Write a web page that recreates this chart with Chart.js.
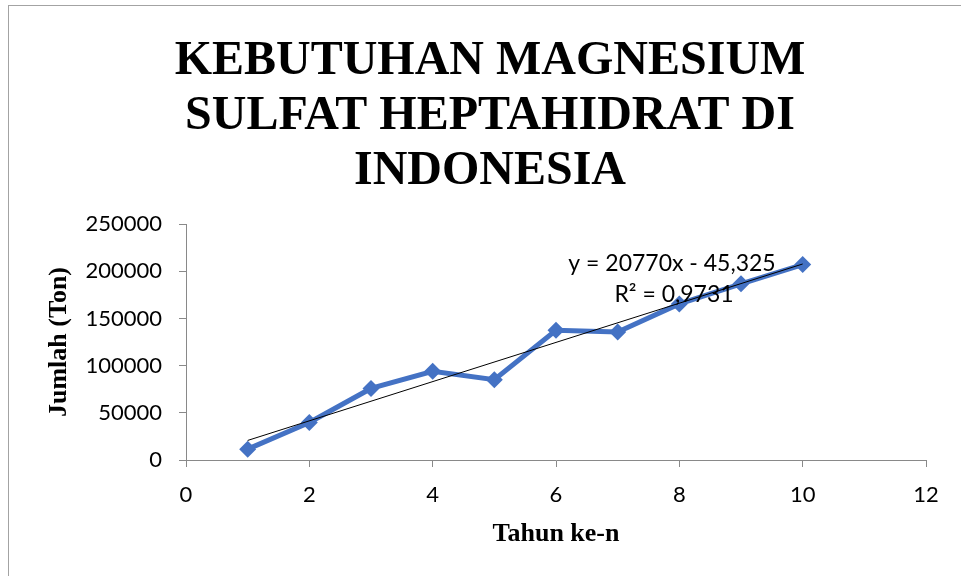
<!DOCTYPE html>
<html>
<head>
<meta charset="utf-8">
<script src="https://cdn.jsdelivr.net/npm/chart.js@4"></script>
<style>
    html, body { margin: 0; padding: 0; background: #ffffff; overflow: hidden; }
    #wrap { position: relative; width: 961px; height: 576px; }
</style>
</head>
<body>
<div id="wrap"><canvas id="magnesiumChart"></canvas></div>
<script>
// Data
const tahun = [1, 2, 3, 4, 5, 6, 7, 8, 9, 10];
const jumlah = [11500, 39800, 75800, 93900, 85100, 137400, 135700, 165400, 186600, 207000];

// Linear trendline end points (y = 20770x - 45,325)
const trendX = [1, 10];
const trendY = [20725, 207655];

const titleLines = ['KEBUTUHAN MAGNESIUM', 'SULFAT HEPTAHIDRAT DI', 'INDONESIA'];
const equationLines = ['y = 20770x - 45,325', 'R\u00B2 = 0,9731'];

const axisGray = '#898989';

// outer frame of the chart object
const framePlugin = {
    id: 'frame',
    beforeDraw(chart) {
        const ctx = chart.ctx;
        ctx.save();
        ctx.fillStyle = '#ffffff';
        ctx.fillRect(0, 0, chart.width, chart.height);
        ctx.strokeStyle = '#a3a3a3';
        ctx.lineWidth = 1;
        ctx.strokeRect(8.5, 5.5, chart.width + 20, chart.height + 20);
        ctx.restore();
    }
};

// trendline equation label
const equationPlugin = {
    id: 'equation',
    afterDatasetsDraw(chart) {
        const ctx = chart.ctx;
        const area = chart.chartArea;
        ctx.save();
        ctx.font = '23px Lato';
        ctx.fillStyle = '#000000';
        ctx.textAlign = 'center';
        ctx.textBaseline = 'middle';
        ctx.fillText(equationLines[0], area.left + 486, area.top + 40);
        ctx.fillText(equationLines[1], area.left + 488, area.top + 71);
        ctx.restore();
    }
};

function initializeMagnesiumChart() {
    const ctx = document.getElementById('magnesiumChart').getContext('2d');

    new Chart(ctx, {
        type: 'scatter',
        data: {
            datasets: [
                {
                    label: 'Linear',
                    data: trendX.map((x, i) => ({ x: x, y: trendY[i] })),
                    showLine: true,
                    borderColor: '#000000',
                    borderWidth: 1,
                    pointRadius: 0,
                    fill: false
                },
                {
                    label: 'Jumlah',
                    data: tahun.map((x, i) => ({ x: x, y: jumlah[i] })),
                    showLine: true,
                    borderColor: '#4472C4',
                    backgroundColor: '#4472C4',
                    borderWidth: 5,
                    pointStyle: 'rectRot',
                    pointRadius: 8.5,
                    pointBorderWidth: 0,
                    fill: false
                }
            ]
        },
        options: {
            responsive: true,
            maintainAspectRatio: false,
            animation: false,
            layout: {
                padding: { left: 54, right: 35, top: 0, bottom: 22 }
            },
            plugins: {
                legend: { display: false },
                tooltip: { enabled: false },
                title: {
                    display: true,
                    text: titleLines,
                    color: '#000000',
                    font: { family: 'Liberation Serif', size: 48, weight: 'bold', lineHeight: 1.146 },
                    padding: { top: 34, bottom: 25 }
                }
            },
            scales: {
                x: {
                    type: 'linear',
                    min: 0,
                    max: 12,
                    ticks: {
                        stepSize: 2,
                        color: '#000000',
                        padding: 15,
                        font: { family: 'Lato', size: 22 }
                    },
                    grid: {
                        drawOnChartArea: false,
                        drawTicks: true,
                        tickLength: 7,
                        color: axisGray
                    },
                    border: { color: axisGray },
                    title: {
                        display: true,
                        text: 'Tahun ke-n',
                        color: '#000000',
                        font: { family: 'Liberation Serif', size: 26, weight: 'bold' },
                        padding: { top: 10, bottom: 4 }
                    },
                    afterFit(scale) {
                        scale.height = 94;
                    }
                },
                y: {
                    min: 0,
                    max: 250000,
                    ticks: {
                        stepSize: 50000,
                        color: '#000000',
                        padding: 17,
                        font: { family: 'Lato', size: 22 },
                        callback: (value) => String(value)
                    },
                    grid: {
                        drawOnChartArea: false,
                        drawTicks: true,
                        tickLength: 7,
                        color: axisGray
                    },
                    border: { color: axisGray },
                    title: {
                        display: true,
                        text: 'Jumlah (Ton)',
                        color: '#000000',
                        font: { family: 'Liberation Serif', size: 26, weight: 'bold' },
                        padding: { top: -10, bottom: 4 }
                    },
                    afterFit(scale) {
                        scale.width = 132;
                    }
                }
            }
        },
        plugins: [framePlugin, equationPlugin]
    });
}

document.addEventListener('DOMContentLoaded', function() {
    initializeMagnesiumChart();
});
</script>
</body>
</html>
